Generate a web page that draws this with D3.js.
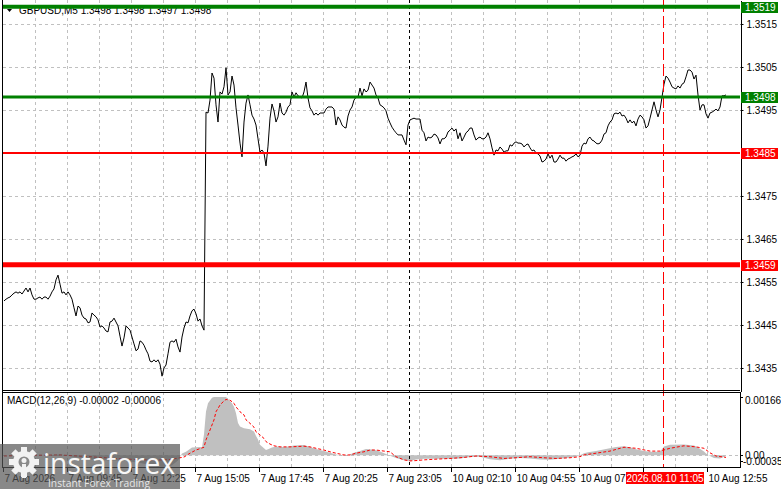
<!DOCTYPE html>
<html>
<head>
<meta charset="utf-8">
<script src="https://cdn.jsdelivr.net/npm/d3@7"></script>
<style>
body{margin:0;background:#fff}
svg{display:block;font-family:"Liberation Sans",Arial,sans-serif}
</style>
</head>
<body>
<svg width="781" height="489"></svg>
<script>

// GBPUSD M5 closes, one per bar
var closes = [
  1.34506,1.34510,1.34513,1.34515,1.34520,1.34524,1.34527,1.34524,1.34527,1.34522,
  1.34529,1.34536,1.34527,1.34536,1.34520,1.34510,1.34510,1.34513,1.34515,1.34510,
  1.34515,1.34515,1.34510,1.34517,1.34527,1.34534,1.34555,1.34566,1.34545,1.34524,
  1.34527,1.34520,1.34527,1.34520,1.34510,1.34490,1.34471,1.34494,1.34490,1.34473,
  1.34466,1.34464,1.34455,1.34457,1.34478,1.34473,1.34469,1.34462,1.34445,1.34448,
  1.34443,1.34436,1.34434,1.34457,1.34459,1.34466,1.34457,1.34448,1.34424,1.34401,
  1.34420,1.34448,1.34443,1.34438,1.34422,1.34406,1.34390,1.34394,1.34413,1.34410,
  1.34403,1.34392,1.34383,1.34366,1.34364,1.34369,1.34364,1.34369,1.34359,1.34331,
  1.34350,1.34357,1.34383,1.34410,1.34413,1.34410,1.34417,1.34399,1.34387,1.34422,
  1.34443,1.34457,1.34455,1.34471,1.34483,1.34487,1.34476,1.34459,1.34464,1.34448,
  1.34438,1.34945,1.34943,1.34973,1.35036,1.35024,1.34962,1.34922,1.34992,1.34987,
  1.35004,1.35048,1.34985,1.34992,1.35029,1.35008,1.34955,1.34915,1.34873,1.34841,
  1.34922,1.34966,1.34985,1.34962,1.34938,1.34929,1.34915,1.34883,1.34852,1.34857,
  1.34850,1.34820,1.34866,1.34931,1.34964,1.34948,1.34922,1.34934,1.34966,1.34943,
  1.34938,1.34945,1.34957,1.34962,1.34992,1.34980,1.34990,1.34983,1.34980,1.34978,
  1.34992,1.35015,1.34978,1.34955,1.34948,1.34938,1.34943,1.34938,1.34943,1.34943,
  1.34943,1.34952,1.34957,1.34957,1.34957,1.34952,1.34915,1.34934,1.34927,1.34915,
  1.34910,1.34908,1.34936,1.34950,1.34957,1.34973,1.34980,1.34980,1.35001,1.34983,
  1.34999,1.34992,1.34996,1.35015,1.35008,1.35001,1.34985,1.34978,1.34962,1.34959,
  1.34955,1.34948,1.34931,1.34920,1.34910,1.34903,1.34897,1.34892,1.34892,1.34892,
  1.34880,1.34869,1.34915,1.34927,1.34929,1.34931,1.34929,1.34929,1.34929,1.34903,
  1.34897,1.34878,1.34887,1.34885,1.34887,1.34894,1.34892,1.34885,1.34871,1.34883,
  1.34883,1.34887,1.34899,1.34903,1.34908,1.34901,1.34906,1.34883,1.34897,1.34878,
  1.34887,1.34897,1.34901,1.34908,1.34908,1.34892,1.34880,1.34885,1.34887,1.34883,
  1.34883,1.34887,1.34897,1.34883,1.34862,1.34845,1.34857,1.34855,1.34864,1.34859,
  1.34852,1.34855,1.34855,1.34869,1.34866,1.34873,1.34876,1.34873,1.34873,1.34871,
  1.34864,1.34869,1.34871,1.34862,1.34855,1.34857,1.34850,1.34848,1.34843,1.34829,
  1.34831,1.34836,1.34848,1.34838,1.34845,1.34829,1.34829,1.34836,1.34845,1.34838,
  1.34838,1.34831,1.34836,1.34838,1.34841,1.34843,1.34848,1.34841,1.34845,1.34866,
  1.34873,1.34871,1.34883,1.34887,1.34880,1.34878,1.34873,1.34871,1.34873,1.34880,
  1.34894,1.34897,1.34913,1.34922,1.34927,1.34941,1.34943,1.34941,1.34945,1.34936,
  1.34938,1.34931,1.34920,1.34927,1.34920,1.34924,1.34913,1.34929,1.34938,1.34934,
  1.34927,1.34908,1.34913,1.34931,1.34950,1.34969,1.34950,1.34934,1.34950,1.34980,
  1.35010,1.35029,1.35024,1.35015,1.35004,1.35001,1.34999,1.35006,1.35001,1.35010,
  1.35013,1.35027,1.35043,1.35043,1.35038,1.35022,1.35031,1.34985,1.34950,1.34962,
  1.34962,1.34941,1.34931,1.34943,1.34945,1.34948,1.34952,1.34948,1.34957,1.34983,
  1.34983,1.34985
];

// MACD main (histogram), read at these bars
var histIdx = [0,13,23,28,35,43,53,60,68,75,80,84,87,89,91,94,98,99,100,101,102,104,105,111,112,114,115,116,117,118,
  120,123,125,126,127,128,130,131,132,134,136,140,143,145,150,153,156,160,163,166,170,172,175,178,181,185,188,191,193,196,
  200,203,206,210,216,221,223,228,233,238,243,248,253,258,263,268,273,278,283,286,288,290,292,296,301,306,310,313,316,320,
  323,328,330,333,340,345,347,350,351,353,355,358,361];
var histVal = [0,0.00002,0,0.00003,-0.00005,-0.00012,-0.00015,-0.00015,-0.00022,-0.00030,-0.00035,-0.00028,-0.00015,0.00005,0.00010,0.00022,0.00024,0.00022,0.00060,0.00125,0.00148,0.00164,0.00166,0.00166,0.00160,0.00148,0.00138,0.00120,0.00092,0.00082,
  0.00077,0.00074,0.00068,0.00055,0.00045,0.00030,0.00020,0.00015,0.00017,0.00022,0.00025,0.00024,0.00026,0.00028,0.00029,0.00024,0.00018,0.00012,0.00007,0.00002,-0.00002,0,0.00007,0.00012,0.00018,0.00016,0.00011,0.00004,-0.00001,-0.00008,
  -0.00014,-0.00016,-0.00012,-0.00010,-0.00010,-0.00010,-0.00010,-0.00009,-0.00005,-0.00004,-0.00011,-0.00014,-0.00010,-0.00008,-0.00009,-0.00012,-0.00013,-0.00010,-0.00006,-0.00004,0,0.00006,0.00009,0.00012,0.00018,0.00024,0.00026,0.00023,0.00017,0.00012,
  0.00010,0.00010,0.00025,0.00030,0.00031,0.00028,0.00022,0.00011,0.00005,-0.00002,-0.00008,-0.00009,-0.00002];

// MACD signal, read at these bars
var sigIdx = [0,13,28,43,58,75,83,86,90,93,96,100,101,103,105,106,108,110,111,113,115,116,118,120,121,123,125,126,128,130,
  131,133,135,138,143,150,153,156,160,163,166,170,173,176,180,183,186,190,193,196,200,203,206,210,216,223,230,236,243,250,
  256,263,270,276,283,288,290,296,303,310,316,323,328,333,340,346,350,353,356,361];
var sigVal = [-0.00002,0,0.00001,-0.00004,-0.00010,-0.00014,-0.00012,-0.00009,-0.00005,0.00006,0.00015,0.00023,0.00044,0.00072,0.00101,0.00124,0.00143,0.00155,0.00159,0.00157,0.00148,0.00138,0.00124,0.00115,0.00101,0.00091,0.00080,0.00067,0.00058,0.00048,
  0.00039,0.00032,0.00027,0.00024,0.00024,0.00026,0.00024,0.00020,0.00015,0.00010,0.00006,0.00001,0.00001,0.00006,0.00010,0.00015,0.00015,0.00012,0.00010,-0.00004,-0.00013,-0.00016,-0.00015,-0.00013,-0.00011,-0.00009,-0.00006,-0.00002,-0.00004,-0.00009,
  -0.00007,-0.00004,-0.00007,-0.00009,-0.00007,-0.00004,0.00001,0.00006,0.00012,0.00023,0.00020,0.00012,0.00012,0.00020,0.00027,0.00024,0.00020,0.00007,-0.00002,-0.00006];

var priceTicks = [1.3515,1.3505,1.3495,1.3475,1.3465,1.3455,1.3445,1.3435];
var gridPrices = [1.3515,1.3505,1.3495,1.3485,1.3475,1.3465,1.3455,1.3445,1.3435];
var levels = [1.3519,1.3498,1.3485,1.3459];
var timeIdx = [0,32,64,96,128,160,192,224,256,288,320,352];
var timeLabels = ["7 Aug 2026","7 Aug 09:45","7 Aug 12:25","7 Aug 15:05","7 Aug 17:45","7 Aug 20:25","7 Aug 23:05",
  "10 Aug 02:10","10 Aug 04:55","10 Aug 07:35","10 Aug 10:15","10 Aug 12:55"];
var macdTicks = [0.00166,0,-0.00035];
var macdTickLabels = ["0.00166","0.00","-0.00035"];
var markBar = 203, cursorBar = 330, cursorLabel = "2026.08.10 11:05";
var header = "GBPUSD,M5  1.3498 1.3498 1.3497 1.3498";
var macdHeader = "MACD(12,26,9) -0.00002 -0.00006";

var levelColor = ["#008000","#008000","#ff0000","#ff0000"],
    levelWidth = [4,3,2,5];

var svg = d3.select("svg"),
    left = 3, right = 740, mainBottom = 391, macdTop = 392, macdBottom = 468;

var x = d3.scaleLinear().domain([0, 1]).range([left, left + 2]),
    y = d3.scaleLinear().domain([1.342965, 1.352058]).range([mainBottom, 0]),
    ym = d3.scaleLinear().domain([-0.00035, 0.00166]).range([467.6, 397]);

function px(v) { return Math.round(v) + 0.5; }

var defs = svg.append("defs");
defs.append("clipPath").attr("id","clipMain").append("rect")
    .attr("x",left).attr("y",0).attr("width",right-left).attr("height",mainBottom);
defs.append("clipPath").attr("id","clipMacd").append("rect")
    .attr("x",left).attr("y",macdTop).attr("width",right-left).attr("height",macdBottom-macdTop);

// grid
var grid = svg.append("g").attr("stroke","#c0c0c0").attr("stroke-dasharray","3,3")
    .attr("shape-rendering","crispEdges");
grid.selectAll(".gh").data(gridPrices).enter().append("line")
    .attr("x1",left).attr("x2",right)
    .attr("y1",function(d){ return px(y(d)); }).attr("y2",function(d){ return px(y(d)); });
var vg = d3.range(16, 362, 16);
grid.selectAll(".gv").data(vg).enter().append("line")
    .attr("x1",function(d){ return px(x(d)); }).attr("x2",function(d){ return px(x(d)); })
    .attr("y1",0).attr("y2",mainBottom);
grid.selectAll(".gvm").data(vg).enter().append("line")
    .attr("x1",function(d){ return px(x(d)); }).attr("x2",function(d){ return px(x(d)); })
    .attr("y1",macdTop).attr("y2",macdBottom);
grid.append("line").attr("x1",left).attr("x2",right).attr("y1",px(ym(0))).attr("y2",px(ym(0)));

// macd
var histPts = histIdx.map(function(d,i){ return [d, histVal[i]]; });
svg.append("path").datum(histPts)
    .attr("clip-path","url(#clipMacd)")
    .attr("fill","#c0c0c0")
    .attr("d", d3.area().x(function(d){ return x(d[0]) + 1; }).y0(ym(0)).y1(function(d){ return ym(d[1]); }));

var sigPts = sigIdx.map(function(d,i){ return [d, sigVal[i]]; });
svg.append("path").datum(sigPts)
    .attr("clip-path","url(#clipMacd)")
    .attr("fill","none").attr("stroke","#ff0000").attr("stroke-width",1).attr("stroke-dasharray","3,2")
    .attr("d", d3.line().x(function(d){ return x(d[0]) + 1; }).y(function(d){ return ym(d[1]); }));

// header text sits under the top level line
svg.append("path").attr("d","M7,9L12,9L9.5,12Z").attr("fill","#000");
svg.append("text").attr("x",19).attr("y",14).attr("font-size",10).attr("fill","#000").text(header);
svg.append("text").attr("x",7).attr("y",404).attr("font-size",10).attr("fill","#000").text(macdHeader);

// price line
svg.append("path").datum(closes)
    .attr("clip-path","url(#clipMain)")
    .attr("fill","none").attr("stroke","#000").attr("stroke-width",1)
    .attr("d", d3.line().x(function(d,i){ return x(i) + 1; }).y(function(d){ return y(d); }));

// vertical markers
svg.append("line").attr("x1",px(x(markBar))).attr("x2",px(x(markBar))).attr("y1",0).attr("y2",macdBottom)
    .attr("stroke","#000").attr("stroke-dasharray","3,3").attr("shape-rendering","crispEdges");
svg.append("line").attr("x1",px(x(cursorBar))).attr("x2",px(x(cursorBar))).attr("y1",0).attr("y2",macdBottom)
    .attr("stroke","#ff0000").attr("stroke-dasharray","12,4").attr("shape-rendering","crispEdges");

// level lines
svg.selectAll(".lvl").data(levels).enter().append("line")
    .attr("x1",left).attr("x2",right)
    .attr("y1",function(d){ return y(d); }).attr("y2",function(d){ return y(d); })
    .attr("stroke",function(d,i){ return levelColor[i]; })
    .attr("stroke-width",function(d,i){ return levelWidth[i]; });

// frames
var frame = svg.append("g").attr("fill","none").attr("stroke","#000").attr("shape-rendering","crispEdges");
frame.append("line").attr("x1",left-0.5).attr("x2",left-0.5).attr("y1",0).attr("y2",macdBottom);
frame.append("line").attr("x1",left).attr("x2",right).attr("y1",mainBottom-0.5).attr("y2",mainBottom-0.5);
frame.append("line").attr("x1",left).attr("x2",right).attr("y1",macdTop+0.5).attr("y2",macdTop+0.5);
frame.append("line").attr("x1",left).attr("x2",right+1).attr("y1",macdBottom-0.5).attr("y2",macdBottom-0.5);
frame.append("line").attr("x1",right+0.5).attr("x2",right+0.5).attr("y1",macdTop).attr("y2",macdBottom);

// price axis
var yAxis = d3.axisRight(y).tickValues(priceTicks).tickFormat(d3.format(".4f")).tickSize(3).tickSizeOuter(0);
var gy = svg.append("g").attr("transform","translate(" + (right + 0.5) + ",0)").call(yAxis);
gy.select(".domain").attr("stroke","#000").attr("shape-rendering","crispEdges");
gy.selectAll(".tick line").attr("stroke","#000");
gy.selectAll("text").attr("font-size",10).attr("font-family","Liberation Sans").attr("fill","#000").attr("x",6);

// macd axis
var gm = svg.append("g");
gm.selectAll("line").data(macdTicks).enter().append("line")
    .attr("x1",right).attr("x2",right+3)
    .attr("y1",function(d){ return px(Math.min(ym(d), 461)); }).attr("y2",function(d){ return px(Math.min(ym(d), 461)); })
    .attr("stroke","#000");
gm.selectAll("text").data(macdTicks).enter().append("text")
    .attr("x",function(d){ return d < 0 ? 743 : 745; })
    .attr("y",function(d){ return Math.max(Math.min(ym(d), 461), 400) + 3.5; })
    .attr("font-size",10).attr("fill","#000")
    .text(function(d,i){ return macdTickLabels[i]; });

// level tags
var tags = svg.selectAll(".tag").data(levels).enter().append("g");
tags.append("rect").attr("x",741).attr("width",37).attr("height",11)
    .attr("y",function(d){ return Math.round(y(d)) - 5; })
    .attr("fill",function(d,i){ return levelColor[i]; });
tags.append("text").attr("x",745).attr("y",function(d){ return Math.round(y(d)) + 4; })
    .attr("font-size",10).attr("fill","#fff").text(function(d){ return d3.format(".4f")(d); });

// time axis
var cx = x(cursorBar) + 1;
var xAxis = d3.axisBottom(x).tickValues(timeIdx).tickFormat(function(d,i){ return timeLabels[i]; })
    .tickSize(4).tickSizeOuter(0);
var gx = svg.append("g").attr("transform","translate(0," + macdBottom + ")").call(xAxis);
gx.select(".domain").remove();
gx.selectAll(".tick line").attr("stroke","#000").attr("shape-rendering","crispEdges");
gx.selectAll("text").attr("text-anchor","start").attr("x",1)
    .attr("font-size",10).attr("font-family","Liberation Sans").attr("fill","#000");
// the label under the crosshair tag is covered there
gx.selectAll(".tick").filter(function(d){ return Math.abs(x(d) - cx) < 40; }).select("text").remove();

// crosshair time tag
svg.append("rect").attr("x",cx-38).attr("y",472).attr("width",78).attr("height",12).attr("fill","#ff0000");
svg.append("text").attr("x",cx+1).attr("y",482).attr("text-anchor","middle")
    .attr("font-size",10).attr("fill","#fff").text(cursorLabel);

// watermark
var logo = svg.append("g");
logo.append("rect").attr("x",0).attr("y",444).attr("width",180).attr("height",45)
    .attr("fill","#555").attr("fill-opacity",0.7);
var gear = logo.append("g").attr("transform","translate(24,462)").attr("fill","#f2f2f2");
d3.range(8).forEach(function(k){
  gear.append("rect").attr("x",-3).attr("y",-15).attr("width",6).attr("height",7)
      .attr("transform","rotate(" + (k*45) + ")");
});
gear.append("circle").attr("r",11);
gear.append("circle").attr("r",5.5).attr("fill","#8a8a8a");
gear.append("circle").attr("r",2.5).attr("cy",-1.5);
gear.append("rect").attr("x",-2).attr("y",2).attr("width",4).attr("height",14);
logo.append("text").attr("x",43).attr("y",474).attr("font-family","Open Sans").attr("font-size",29)
    .attr("fill","#f7f7f7").attr("textLength",132).attr("lengthAdjust","spacingAndGlyphs").text("instaforex");
logo.append("text").attr("x",48).attr("y",487).attr("font-family","Open Sans").attr("font-size",11)
    .attr("fill","#e6e6e6").attr("textLength",102).attr("lengthAdjust","spacingAndGlyphs").text("Instant Forex Trading");

</script>
</body>
</html>
